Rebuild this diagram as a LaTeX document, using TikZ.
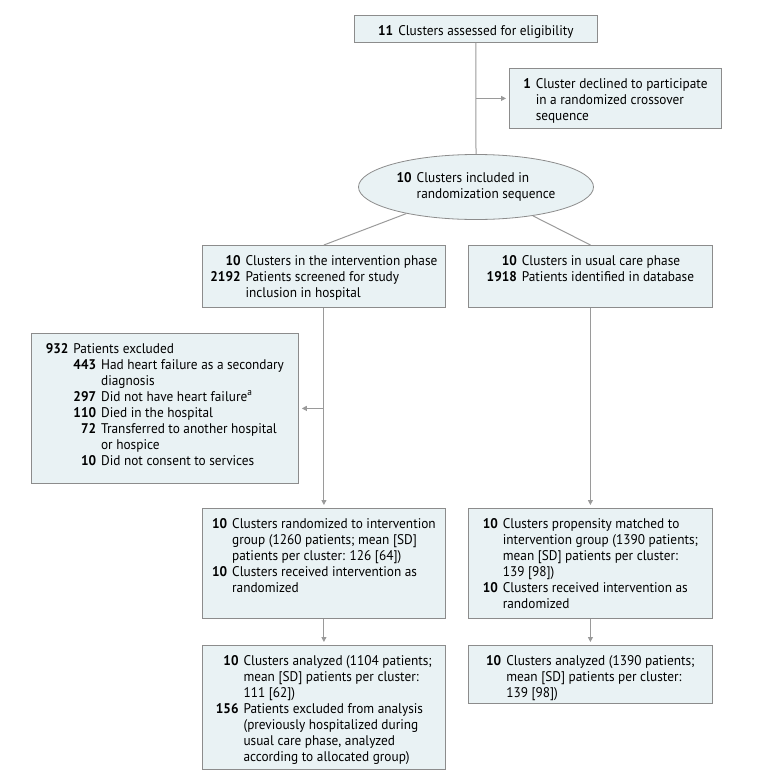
\documentclass[tikz,border=0pt]{standalone}
\usepackage{fontspec}
\setmainfont{PT Sans}[FakeStretch=0.95]
\usetikzlibrary{arrows.meta, shapes.geometric}

\definecolor{boxfill}{HTML}{E9F2F4}
\definecolor{boxline}{HTML}{8C8C8C}
\definecolor{linkline}{HTML}{9A9A9A}

\newcommand{\cnt}[1]{\textbf{#1}}
\newcommand{\boxbody}[3]{\parbox[c][#2][t]{#1}{\vspace{8.5pt}\centering\fontsize{14}{16}\selectfont #3}}
\newcommand{\rows}[1]{\begin{tabular}{@{}r@{\hspace{5pt}}l@{}}#1\end{tabular}}

\begin{document}
\begin{tikzpicture}[x=1pt, y=-1pt,
  flowbox/.style={draw=boxline, fill=boxfill, line width=0.8pt, inner sep=0pt, anchor=north west},
  link/.style={draw=linkline, line width=1pt},
  linkarrow/.style={link, shorten >=3pt, arrows={-Triangle[length=5pt,width=5pt,linkline,fill=linkline]}}]
\useasboundingbox (0,0) rectangle (780,782);

\node[flowbox] (assess) at (354,15) {\boxbody{243pt}{27pt}{\rows{\cnt{11} & Clusters assessed for eligibility}}};
\node[flowbox] (declined) at (509,68) {\boxbody{212pt}{60pt}{\rows{\cnt{1} & Cluster declined to participate \\ & in a randomized crossover \\ & sequence}}};
\node[draw=boxline, fill=boxfill, line width=0.8pt, ellipse, minimum width=235pt, minimum height=65pt, inner sep=0pt] (incl) at (476,187)
  {\fontsize{14}{16}\selectfont\rows{\cnt{10} & Clusters included in \\ & randomization sequence}};

% two phases
\node[flowbox] (interv) at (202,245) {\boxbody{243pt}{62pt}{\rows{\cnt{10} & Clusters in the intervention phase \\ \cnt{2192} & Patients screened for study \\ & inclusion in hospital}}};
\node[flowbox] (usual) at (468,245) {\boxbody{244pt}{62pt}{\rows{\cnt{10} & Clusters in usual care phase \\ \cnt{1918} & Patients identified in database}}};

\node[flowbox] (excl) at (31,333) {\boxbody{267pt}{150pt}{\begin{tabular}{@{}r@{\hspace{5pt}}r@{\hspace{5pt}}l@{}}
  \cnt{932} & \multicolumn{2}{@{}l@{}}{Patients excluded} \\
  & \cnt{443} & Had heart failure as a secondary \\
  & & diagnosis \\
  & \cnt{297} & Did not have heart failure\textsuperscript{a} \\
  & \cnt{110} & Died in the hospital \\
  & \cnt{72} & Transferred to another hospital \\
  & & or hospice \\
  & \cnt{10} & Did not consent to services
\end{tabular}}};

\node[flowbox] (randI) at (202,508) {\boxbody{243pt}{110pt}{\rows{\cnt{10} & Clusters randomized to intervention \\ & group (1260 patients; mean [SD] \\ & patients per cluster: 126 [64]) \\ \cnt{10} & Clusters received intervention as \\ & randomized}}};
\node[flowbox] (matchU) at (468,508) {\boxbody{244pt}{110pt}{\rows{\cnt{10} & Clusters propensity matched to \\ & intervention group (1390 patients; \\ & mean [SD] patients per cluster: \\ & 139 [98]) \\ \cnt{10} & Clusters received intervention as \\ & randomized}}};

\node[flowbox] (anaI) at (202,645) {\boxbody{243pt}{124pt}{\rows{\cnt{10} & Clusters analyzed (1104 patients; \\ & mean [SD] patients per cluster: \\ & 111 [62]) \\ \cnt{156} & Patients excluded from analysis \\ & (previously hospitalized during \\ & usual care phase, analyzed \\ & according to allocated group)}}};
\node[flowbox] (anaU) at (468,645) {\boxbody{244pt}{58pt}{\rows{\cnt{10} & Clusters analyzed (1390 patients; \\ & mean [SD] patients per cluster: \\ & 139 [98])}}};

% connectors
\draw[link] (assess.south) -- (incl.north);
\coordinate (split1) at (assess.south |- declined.west);
\draw[linkarrow] (split1) -- (declined.west);
\draw[link] (incl) -- (interv.north);
\draw[link] (incl) -- (usual.north);
\draw[linkarrow] (interv.south) -- (randI.north);
\coordinate (split2) at (interv.south |- excl.east);
\draw[linkarrow] (split2) -- (excl.east);
\draw[linkarrow] (usual.south) -- (matchU.north);
\draw[linkarrow] (randI.south) -- (anaI.north);
\draw[linkarrow] (matchU.south) -- (anaU.north);
\end{tikzpicture}
\end{document}
